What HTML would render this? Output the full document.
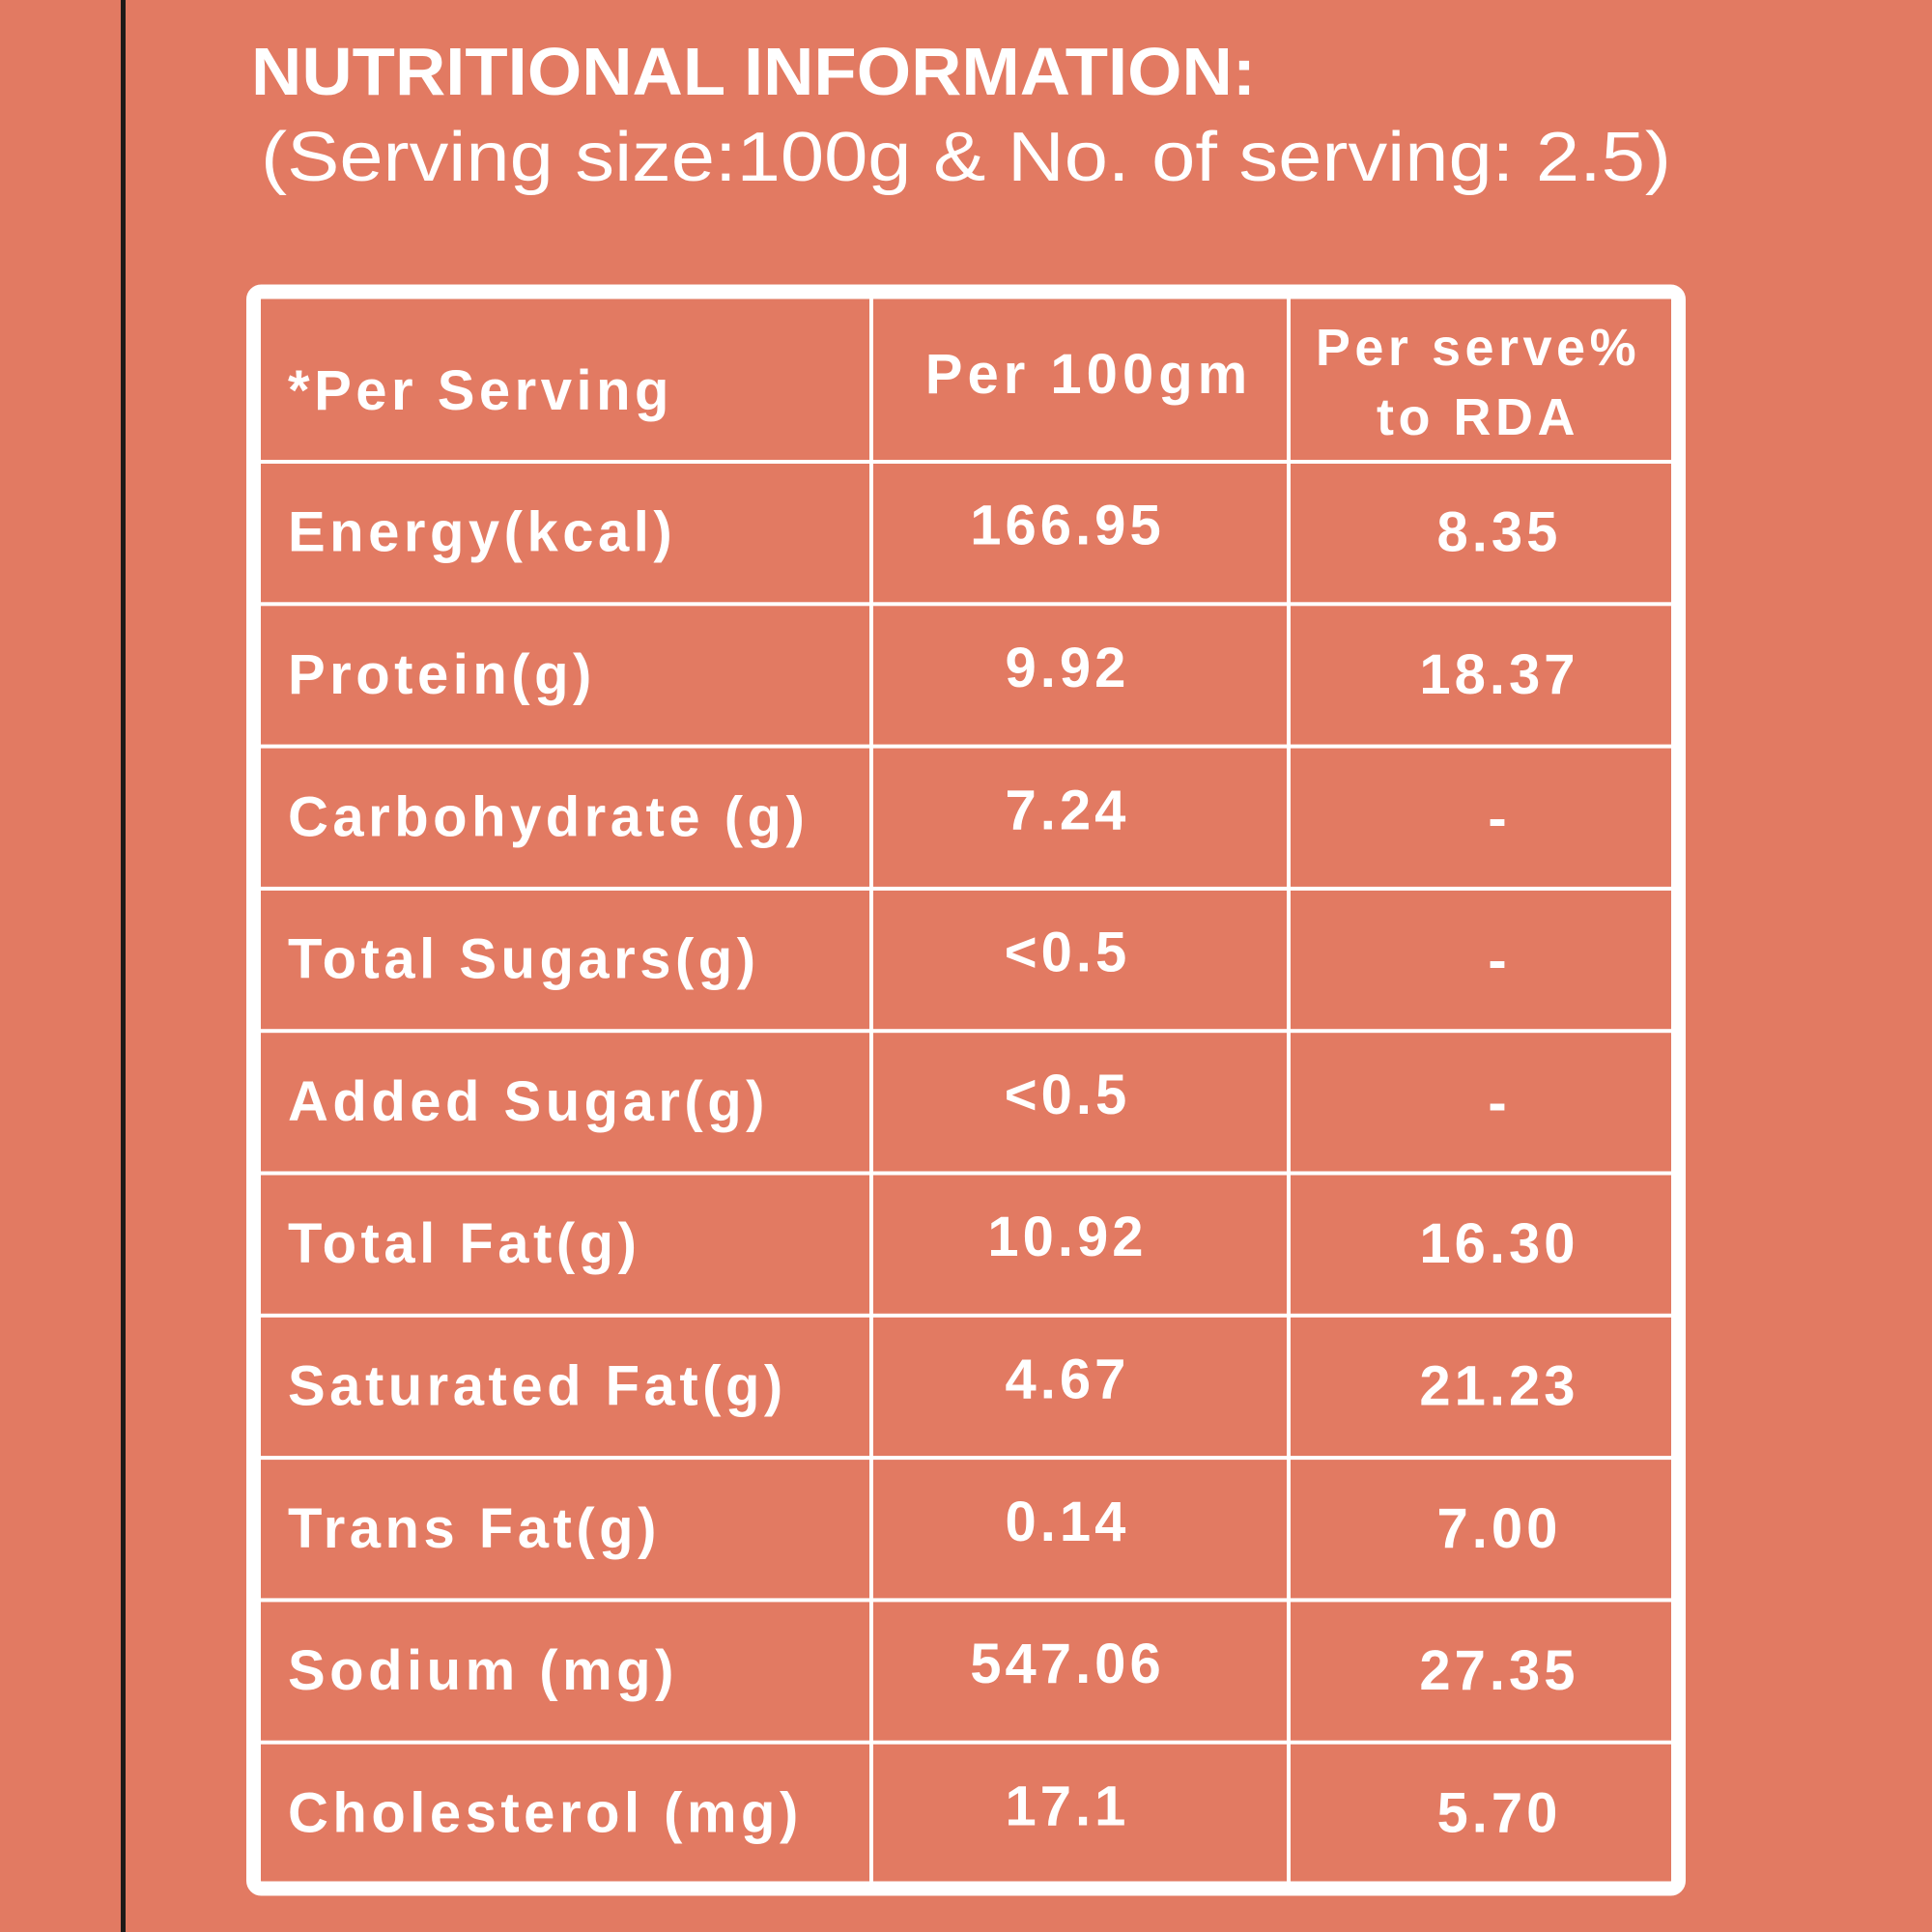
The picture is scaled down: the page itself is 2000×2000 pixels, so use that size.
<!DOCTYPE html>
<html><head><meta charset="utf-8"><style>
html,body{margin:0;padding:0;background:#E27A62;}
svg{display:block;}
text{font-family:"Liberation Sans",sans-serif;fill:#fff;}
</style></head><body>
<svg id="chart" width="2000" height="2000" viewBox="0 0 2000 2000" xmlns="http://www.w3.org/2000/svg">
<rect width="2000" height="2000" fill="#E27A62"/>
<rect x="125" y="0" width="5" height="2000" fill="#1e1a18"/>
<text x="260" y="98" font-size="70" font-weight="bold" textLength="1040" lengthAdjust="spacingAndGlyphs">NUTRITIONAL INFORMATION:</text>
<text x="270" y="187" font-size="72" textLength="1460" lengthAdjust="spacingAndGlyphs">(Serving size:100g &amp; No. of serving: 2.5)</text>
<rect x="262.5" y="302" width="1475" height="1653" rx="8" fill="none" stroke="#fff" stroke-width="15"/>
<rect x="900" y="309" width="4" height="1639" fill="#fff"/>
<rect x="1332" y="309" width="4" height="1639" fill="#fff"/>
<text x="298" y="424" font-size="58" font-weight="bold" letter-spacing="4.5">*Per Serving</text>
<text x="1127" y="407" font-size="58" font-weight="bold" letter-spacing="5" text-anchor="middle">Per 100gm</text>
<text x="1530" y="378" font-size="54" font-weight="bold" letter-spacing="4.5" text-anchor="middle">Per serve%</text>
<text x="1530" y="450" font-size="54" font-weight="bold" letter-spacing="4.5" text-anchor="middle">to RDA</text>
<g id="rows"></g>
</svg>
<script>
const nutrients = ["Energy(kcal)","Protein(g)","Carbohydrate (g)","Total Sugars(g)","Added Sugar(g)","Total Fat(g)","Saturated Fat(g)","Trans Fat(g)","Sodium (mg)","Cholesterol (mg)"];
const per100 = ["166.95","9.92","7.24","<0.5","<0.5","10.92","4.67","0.14","547.06","17.1"];
const rda = ["8.35","18.37","-","-","-","16.30","21.23","7.00","27.35","5.70"];

const NS = "http://www.w3.org/2000/svg";
const g = document.getElementById('rows');
const top0 = 478, rowH = 147.3;
function rowY(i){ return top0 + i*rowH; }
nutrients.forEach((n,i)=>{
  const y = rowY(i);
  const line = document.createElementNS(NS,'rect');
  line.setAttribute('x',270); line.setAttribute('y',y-2);
  line.setAttribute('width',1460); line.setAttribute('height',4);
  line.setAttribute('fill','#fff');
  
  
  g.appendChild(line);
  const mid = y + rowH/2;
  const t1 = document.createElementNS(NS,'text');
  t1.setAttribute('x',298); t1.setAttribute('y',mid+19);
  t1.setAttribute('font-size',58); t1.setAttribute('font-weight','bold'); t1.setAttribute('letter-spacing',4.5);
  t1.textContent = n;
  
  
  g.appendChild(t1);
  const t2 = document.createElementNS(NS,'text');
  t2.setAttribute('x',1105); t2.setAttribute('y',mid+12);
  t2.setAttribute('font-size',58); t2.setAttribute('font-weight','bold'); t2.setAttribute('letter-spacing',4);
  t2.setAttribute('text-anchor','middle');
  t2.textContent = per100[i];
  
  
  g.appendChild(t2);
  const t3 = document.createElementNS(NS,'text');
  t3.setAttribute('x',1552); t3.setAttribute('y',mid+(rda[i]==='-'?20:19));
  t3.setAttribute('font-size',58); t3.setAttribute('font-weight','bold'); t3.setAttribute('letter-spacing',4);
  t3.setAttribute('text-anchor','middle');
  t3.textContent = rda[i];
  
  
  g.appendChild(t3);
});
</script>
</body></html>
